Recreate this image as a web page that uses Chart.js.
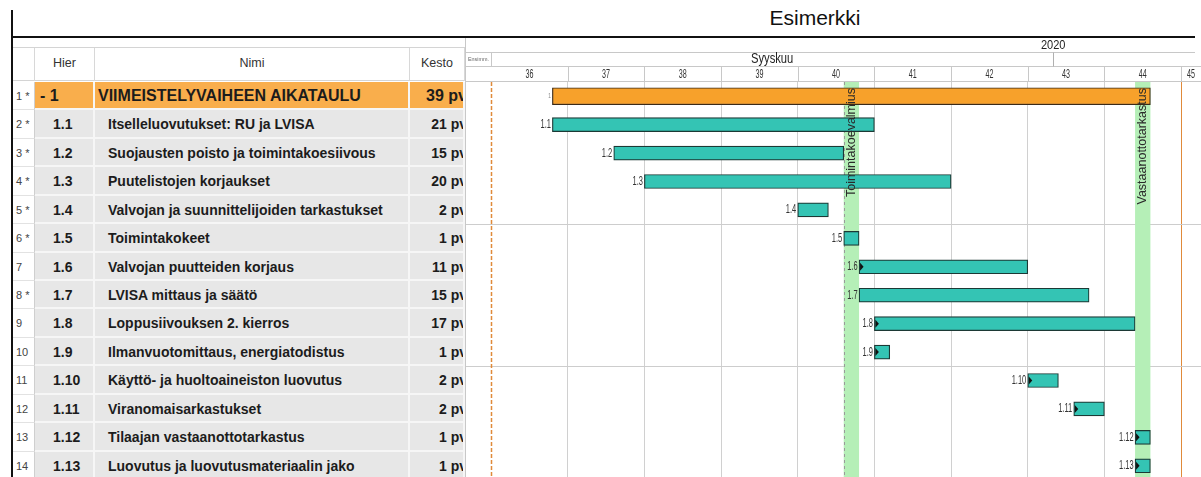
<!DOCTYPE html>
<html lang="fi">
<head>
<meta charset="utf-8">
<title>Esimerkki</title>
<script src="https://cdn.jsdelivr.net/npm/chart.js@4.4.1/dist/chart.umd.min.js"></script>
<style>
  html, body { margin: 0; padding: 0; }
  body {
    width: 1201px; height: 477px; overflow: hidden; position: relative;
    background: #fff; color: #1c1c1c;
    font-family: "Liberation Sans", Arial, sans-serif;
  }
  #title { position: absolute; left: 465px; width: 700px; top: 6px; text-align: center; font-size: 21px; color: #111; }
  .frame { position: absolute; background: #111; }
  #frameLeft { left: 11px; top: 10px; width: 2px; height: 470px; }
  #frameTop { left: 11px; top: 36px; width: 1184px; height: 2px; }
  #tableHead { position: absolute; left: 13px; top: 47px; width: 452px; height: 34px; border-top: 1px solid #d4d4d4; border-bottom: 1px solid #d4d4d4; box-sizing: border-box; }
  #tableHead div { position: absolute; top: 0; height: 33px; line-height: 30px; text-align: center; font-size: 12.5px; color: #333; border-right: 1px solid #d8d8d8; box-sizing: border-box; }
  .row { position: absolute; left: 13px; width: 452px; }
  .row div { position: absolute; top: 0; height: 100%; box-sizing: border-box; overflow: hidden; white-space: nowrap; }
  .num { left: 0; width: 22px; background: #fff; border-right: 1px solid #cfcfcf; border-bottom: 1px solid #e2e2e2; font-size: 11px; color: #444; padding-left: 3px; }
  .cell { background: #e7e7e7; border-right: 2px solid #f6f6f6; border-bottom: 2px solid #f6f6f6; font-weight: bold; font-size: 14px; }
  .hier { left: 22px; width: 60px; padding-left: 18px; }
  .name { left: 82px; width: 315px; padding-left: 13px; }
  .kesto { left: 397px; width: 55px; }
  .kesto span { position: absolute; right: -4px; }
  .summary .cell { background: #f9ae4c; font-size: 16px; }
  .summary .hier { padding-left: 5px; }
  .summary .name { padding-left: 3px; }
  #gantt { position: absolute; left: 465px; top: 38px; width: 736px; height: 442px; }
</style>
</head>
<body>
<div id="title">Esimerkki</div>
<div class="frame" id="frameLeft"></div>
<div class="frame" id="frameTop"></div>
<div id="tableHead">
  <div style="left:0;width:22px"></div>
  <div style="left:22px;width:60px">Hier</div>
  <div style="left:82px;width:315px">Nimi</div>
  <div style="left:397px;width:55px">Kesto</div>
</div>
<div id="tableBody"></div>
<div id="gantt"><canvas id="ganttChart" width="736" height="442"></canvas></div>

<script>
// rows of the schedule
const rowNumbers = ["1 *", "2 *", "3 *", "4 *", "5 *", "6 *", "7", "8 *", "9", "10", "11", "12", "13", "14"];
const hier = ["1", "1.1", "1.2", "1.3", "1.4", "1.5", "1.6", "1.7", "1.8", "1.9", "1.10", "1.11", "1.12", "1.13"];
const taskNames = [
  "VIIMEISTELYVAIHEEN AIKATAULU",
  "Itselleluovutukset: RU ja LVISA",
  "Suojausten poisto ja toimintakoesiivous",
  "Puutelistojen korjaukset",
  "Valvojan ja suunnittelijoiden tarkastukset",
  "Toimintakokeet",
  "Valvojan puutteiden korjaus",
  "LVISA mittaus ja säätö",
  "Loppusiivouksen 2. kierros",
  "Ilmanvuotomittaus, energiatodistus",
  "Käyttö- ja huoltoaineiston luovutus",
  "Viranomaisarkastukset",
  "Tilaajan vastaanottotarkastus",
  "Luovutus ja luovutusmateriaalin jako",
];
const durations = ["39 pv", "21 pv", "15 pv", "20 pv", "2 pv", "1 pv", "11 pv", "15 pv", "17 pv", "1 pv", "2 pv", "2 pv", "1 pv", "1 pv"];

// working days counted from monday of week 36 (5 working days per week)
const startDays = [4, 4, 8, 10, 20, 23, 24, 24, 25, 25, 35, 38, 42, 42];
const endDays = [43, 25, 23, 30, 22, 24, 35, 39, 42, 26, 37, 40, 43, 43];
const linkedStart = [false, false, false, false, false, false, true, false, true, true, true, true, true, true];

const weekNumbers = [36, 37, 38, 39, 40, 41, 42, 43, 44, 45];
const weekStarts = [0, 5, 10, 15, 20, 25, 30, 35, 40, 45];
const milestoneNames = ["Toimintakoevalmius", "Vastaanottotarkastus"];
const milestoneDays = [23, 42];
const monthLabel = "Syyskuu";
const monthSpan = [0, 36.66];
const yearLabel = "2020";
const yearAt = 36.66;
const projectStart = 0;
const projectEnd = 45;
const viewStart = -1.7;
const viewEnd = 46.3;

const narrowFont = '"Liberation Sans", Arial, sans-serif';

function narrowText(ctx, text, x, y, size, squeeze, align, color) {
  ctx.save();
  ctx.font = size + "px " + narrowFont;
  ctx.fillStyle = color;
  ctx.textBaseline = "middle";
  ctx.textAlign = align;
  ctx.translate(x, y);
  ctx.scale(squeeze, 1);
  ctx.fillText(text, 0, 0);
  ctx.restore();
}

const ganttPlugin = {
  id: "gantt",
  beforeDatasetsDraw(chart) {
    const { ctx, chartArea, scales: { x } } = chart;
    ctx.save();
    milestoneDays.forEach((day) => {
      const x0 = x.getPixelForValue(day);
      const x1 = x.getPixelForValue(day + 1);
      ctx.fillStyle = "#b5efb7";
      ctx.fillRect(x0, chartArea.top, x1 - x0, chartArea.bottom - chartArea.top);
    });
    // status line at the first milestone
    ctx.strokeStyle = "#9a9a9a";
    ctx.setLineDash([3, 3]);
    ctx.lineWidth = 1;
    const sx = Math.round(x.getPixelForValue(milestoneDays[0])) + 0.5;
    ctx.beginPath(); ctx.moveTo(sx, chartArea.top); ctx.lineTo(sx, chartArea.bottom); ctx.stroke();
    // project start
    ctx.strokeStyle = "#e08a3a";
    ctx.lineWidth = 1.5;
    ctx.setLineDash([4, 2]);
    const px = Math.round(x.getPixelForValue(projectStart)) + 0.5;
    ctx.beginPath(); ctx.moveTo(px, chartArea.top); ctx.lineTo(px, chartArea.bottom); ctx.stroke();
    ctx.restore();
  },
  afterDatasetsDraw(chart) {
    const { ctx, chartArea, scales: { x, y } } = chart;
    hier.forEach((code, i) => {
      const x0 = x.getPixelForValue(startDays[i]);
      const cy = y.getPixelForValue(i);
      narrowText(ctx, code, x0 - 1.5, cy, i === 0 ? 8 : 12.5, 0.6, "right", i === 0 ? "#888" : "#333");
      if (linkedStart[i]) {
        ctx.save();
        ctx.fillStyle = "#111";
        ctx.beginPath();
        ctx.moveTo(x0 + 1, cy - 4);
        ctx.lineTo(x0 + 4.5, cy);
        ctx.lineTo(x0 + 1, cy + 4);
        ctx.closePath();
        ctx.fill();
        ctx.restore();
      }
    });
    milestoneNames.forEach((name, i) => {
      const cx = x.getPixelForValue(milestoneDays[i] + 0.5);
      ctx.save();
      ctx.translate(cx, chartArea.top + 6);
      ctx.rotate(-Math.PI / 2);
      ctx.font = "12.5px " + narrowFont;
      ctx.fillStyle = "#2a2a2a";
      ctx.textAlign = "right";
      ctx.textBaseline = "middle";
      ctx.fillText(name, 0, 0);
      ctx.restore();
    });
  },
  afterDraw(chart) {
    const { ctx, chartArea, scales: { x } } = chart;
    const right = chartArea.right;
    const line = (x1, y1, x2, y2, color) => {
      ctx.strokeStyle = color;
      ctx.beginPath(); ctx.moveTo(x1, y1); ctx.lineTo(x2, y2); ctx.stroke();
    };
    ctx.save();
    ctx.lineWidth = 1;
    // header rows
    line(0, 14.5, right - 6, 14.5, "#c8c8c8");
    line(0, 28.5, right, 28.5, "#c8c8c8");
    line(0, 43.5, right, 43.5, "#c8c8c8");
    line(0.5, 0, 0.5, chartArea.bottom, "#c8c8c8");
    const ex = Math.round(x.getPixelForValue(projectStart)) + 0.5;
    line(ex, 14.5, ex, 28.5, "#c8c8c8");
    const mx = Math.round(x.getPixelForValue(monthSpan[1])) + 0.5;
    line(mx, 14.5, mx, 28.5, "#b0b0b0");
    weekStarts.forEach((w) => {
      if (w === projectStart) return;
      const wx = Math.round(x.getPixelForValue(w)) + 0.5;
      line(wx, 28.5, wx, 43.5, "#c8c8c8");
    });
    narrowText(ctx, yearLabel, x.getPixelForValue(yearAt), 7.5, 13, 0.85, "center", "#222");
    narrowText(ctx, "Ensimm.", 3, 21.5, 6, 0.9, "left", "#666");
    const monthCenter = (x.getPixelForValue(monthSpan[0]) + x.getPixelForValue(monthSpan[1])) / 2;
    narrowText(ctx, monthLabel, monthCenter, 21.5, 14, 0.8, "center", "#222");
    weekNumbers.forEach((wk, i) => {
      const a = x.getPixelForValue(weekStarts[i]);
      const b = Math.min(x.getPixelForValue(weekStarts[i] + 5), right);
      narrowText(ctx, String(wk), (a + b) / 2, 36, 13, 0.55, "center", "#333");
    });
    ctx.restore();
  },
};

const chart = new Chart(document.getElementById("ganttChart"), {
  type: "bar",
  data: {
    labels: hier,
    datasets: [
      {
        label: "Yhteenveto",
        data: hier.map((_, i) => (i === 0 ? [startDays[i], endDays[i]] : null)),
        backgroundColor: "#f7a12b",
        borderColor: "#3b2a18",
        borderWidth: 1.2,
        borderSkipped: false,
        barThickness: 17,
        grouped: false,
      },
      {
        label: "Tehtävät",
        data: hier.map((_, i) => (i === 0 ? null : [startDays[i], endDays[i]])),
        backgroundColor: "#34c4b4",
        borderColor: "#1c3935",
        borderWidth: 1.2,
        borderSkipped: false,
        barThickness: 14,
        grouped: false,
      },
    ],
  },
  options: {
    indexAxis: "y",
    responsive: false,
    maintainAspectRatio: false,
    animation: false,
    layout: { padding: { top: 44, left: 0, right: 0, bottom: 0 } },
    plugins: { legend: { display: false }, tooltip: { enabled: false } },
    scales: {
      x: {
        type: "linear",
        min: viewStart,
        max: viewEnd,
        border: { display: false },
        ticks: { display: false },
        afterBuildTicks: (scale) => { scale.ticks = weekStarts.map((value) => ({ value })); },
        grid: {
          drawTicks: false,
          lineWidth: 1,
          color: (ctx) => (ctx.tick.value === projectEnd ? "#e08a3a" : ctx.tick.value === projectStart ? "rgba(0,0,0,0)" : "#d0d0d0"),
        },
      },
      y: {
        border: { display: false },
        ticks: { display: false },
        grid: {
          drawTicks: false,
          color: (ctx) => (ctx.index > 0 && ctx.index % 5 === 0 ? "#cdcdcd" : "rgba(0,0,0,0)"),
        },
      },
    },
  },
  plugins: [ganttPlugin],
});

// table rows follow the chart's row bands
function renderTable() {
  const y = chart.scales.y;
  const band = (chart.chartArea.bottom - chart.chartArea.top) / hier.length;
  const top = document.getElementById("gantt").offsetTop;
  document.getElementById("tableBody").innerHTML = hier.map((code, i) => `
    <div class="row${i === 0 ? " summary" : ""}" style="top:${(top + y.getPixelForValue(i) - band / 2).toFixed(2)}px;height:${band.toFixed(2)}px;line-height:${band.toFixed(2)}px">
      <div class="num">${rowNumbers[i]}</div>
      <div class="cell hier">${i === 0 ? "- " + code : code}</div>
      <div class="cell name">${taskNames[i]}</div>
      <div class="cell kesto"><span>${durations[i]}</span></div>
    </div>
  `).join("");
}
renderTable();
</script>
</body>
</html>
